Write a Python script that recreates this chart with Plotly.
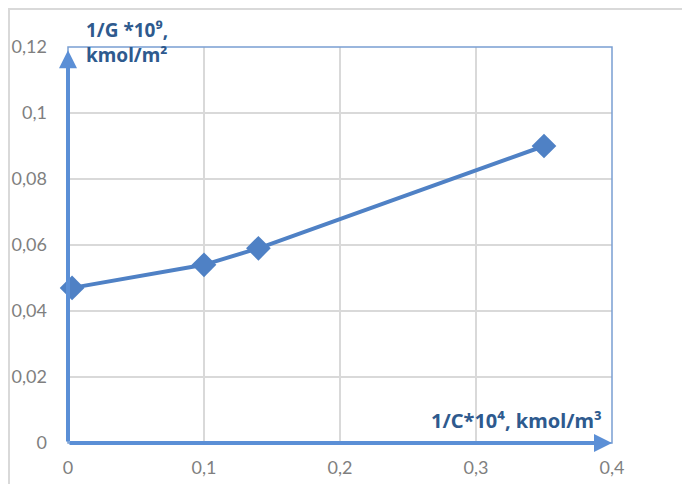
import plotly.graph_objects as go

x_vals = [0.003, 0.1, 0.14, 0.35]
y_vals = [0.047, 0.054, 0.059, 0.090]
x_ticks = [0, 0.1, 0.2, 0.3, 0.4]
x_tick_text = ["0", "0,1", "0,2", "0,3", "0,4"]
y_ticks = [0, 0.02, 0.04, 0.06, 0.08, 0.10, 0.12]
y_tick_text = ["0", "0,02", "0,04", "0,06", "0,08", "0,1", "0,12"]

# page has an 8px body margin; figure drawn in figure coordinates
OFF = 8
W, H = 682, 476
L, R, T, B = 60, 78, 39, 41
pw, ph = W - L - R, H - T - B

def px2paper_x(p):
    return (p - OFF - L) / pw

def px2paper_y(p):
    return (H - B - (p - OFF)) / ph

series_color = "#4f81c5"
axis_color = "#5b8fd6"
label_color = "#2e5a8e"
font = "Lato, Liberation Sans, sans-serif"
label_font = "Noto Sans, Open Sans, sans-serif"

fig = go.Figure()
fig.add_trace(go.Scatter(
    x=x_vals, y=y_vals, mode="lines+markers",
    line=dict(color=series_color, width=4),
    marker=dict(symbol="diamond", size=19, color=series_color),
    showlegend=False, cliponaxis=False,
))

fig.update_layout(
    width=W, height=H,
    margin=dict(l=L, r=R, t=T, b=B),
    paper_bgcolor="white", plot_bgcolor="white",
    font=dict(family=font, size=18, color="#7f7f7f"),
    xaxis=dict(range=[0, 0.4], tickvals=x_ticks, ticktext=x_tick_text,
               showgrid=True, gridcolor="#d9d9d9", gridwidth=2, automargin=False,
               zeroline=False, showline=False, ticks="", ticklabelstandoff=12),
    yaxis=dict(range=[0, 0.12], tickvals=y_ticks, ticktext=y_tick_text,
               showgrid=True, gridcolor="#d9d9d9", gridwidth=2, automargin=False,
               zeroline=False, showline=False, ticks="", ticklabelstandoff=20),
    shapes=[
        dict(type="rect", xref="paper", yref="paper",
             x0=px2paper_x(9), x1=px2paper_x(720), y0=px2paper_y(520), y1=px2paper_y(9),
             line=dict(color="#d9d9d9", width=2), layer="below"),
        dict(type="rect", xref="paper", yref="paper", x0=0, x1=1, y0=0, y1=1,
             line=dict(color="#7a9fd2", width=1.5), layer="above"),
    ],
    annotations=[
        dict(x=0.4, y=0, xref="x", yref="y", ax=0, ay=0, axref="x", ayref="y",
             showarrow=True, arrowhead=2, arrowsize=0.9, arrowwidth=4,
             arrowcolor=axis_color, text=""),
        dict(x=0, y=0.119, xref="x", yref="y", ax=0, ay=0, axref="x", ayref="y",
             showarrow=True, arrowhead=2, arrowsize=0.9, arrowwidth=4,
             arrowcolor=axis_color, text=""),
        dict(x=px2paper_x(84), y=px2paper_y(15), xref="paper", yref="paper",
             xanchor="left", yanchor="top", align="left", showarrow=False,
             text="<b>1/G *10⁹,<br>kmol/m²</b>",
             font=dict(family=label_font, size=19, color=label_color)),
        dict(x=px2paper_x(604), y=px2paper_y(436), xref="paper", yref="paper",
             xanchor="right", yanchor="bottom", align="right", showarrow=False,
             text="<b>1/C*10⁴, kmol/m³</b>",
             font=dict(family=label_font, size=20, color=label_color)),
    ],
)

fig.write_html("out.html")
